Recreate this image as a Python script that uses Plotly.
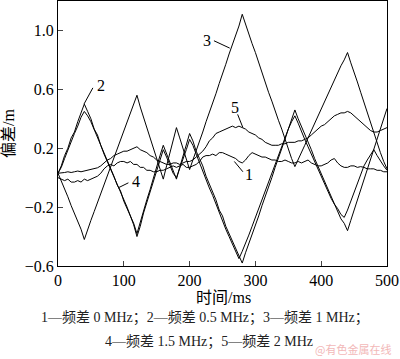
import plotly.graph_objects as go

t = list(range(0, 505, 5))

curve1 = [0.00, -0.01, -0.02, -0.01, -0.03, -0.03, -0.02, -0.03, -0.01, -0.02,
          -0.01, 0.00, 0.01, 0.03, 0.06, 0.08, 0.09, 0.08, 0.10, 0.11,
          0.11, 0.10, 0.11, 0.09, 0.09, 0.07, 0.07, 0.05, 0.05, 0.04,
          0.04, 0.05, 0.05, 0.06, 0.07, 0.08, 0.07, 0.08, 0.09, 0.07,
          0.07, 0.08, 0.09, 0.11, 0.14, 0.15, 0.15, 0.16, 0.15, 0.17,
          0.17, 0.16, 0.15, 0.14, 0.13, 0.11, 0.10, 0.12, 0.15, 0.17,
          0.16, 0.15, 0.14, 0.14, 0.13, 0.12, 0.12, 0.11, 0.11, 0.12,
          0.11, 0.10, 0.10, 0.11, 0.10, 0.11, 0.12, 0.10, 0.09, 0.08,
          0.08, 0.09, 0.10, 0.12, 0.13, 0.10, 0.08, 0.07, 0.07, 0.08,
          0.08, 0.07, 0.075, 0.07, 0.06, 0.06, 0.06, 0.05, 0.05, 0.04,
          0.04]

curve2 = [0.03, 0.08, 0.15, 0.20, 0.27, 0.31, 0.38, 0.44, 0.50, 0.45,
          0.40, 0.33, 0.29, 0.22, 0.17, 0.12, 0.06, 0.01, -0.05, -0.09,
          -0.16, -0.21, -0.26, -0.31, -0.38, -0.30, -0.22, -0.15, -0.08, 0.00,
          0.07, 0.15, 0.22, 0.16, 0.10, 0.04, -0.01, 0.07, 0.15, 0.22,
          0.30, 0.25, 0.18, 0.13, 0.08, 0.01, -0.04, -0.10, -0.15, -0.22,
          -0.26, -0.33, -0.38, -0.44, -0.48, -0.54, -0.58, -0.51, -0.45, -0.39,
          -0.32, -0.26, -0.19, -0.13, -0.06, 0.00, 0.07, 0.13, 0.20, 0.26,
          0.33, 0.39, 0.46, 0.40, 0.35, 0.29, 0.24, 0.19, 0.13, 0.08,
          0.03, -0.03, -0.08, -0.13, -0.18, -0.23, -0.28, -0.31, -0.36, -0.29,
          -0.22, -0.15, -0.08, -0.01, 0.06, 0.13, 0.20, 0.27, 0.33, 0.40,
          0.47]

curve3 = [0.03, -0.02, -0.08, -0.13, -0.19, -0.24, -0.30, -0.35, -0.42, -0.35,
          -0.29, -0.23, -0.17, -0.11, -0.05, 0.01, 0.07, 0.13, 0.19, 0.25,
          0.31, 0.37, 0.43, 0.49, 0.56, 0.48, 0.41, 0.33, 0.26, 0.19,
          0.12, 0.05, -0.01, 0.08, 0.17, 0.25, 0.34, 0.27, 0.20, 0.12,
          0.055, 0.12, 0.18, 0.25, 0.31, 0.38, 0.44, 0.51, 0.57, 0.64,
          0.70, 0.77, 0.84, 0.90, 0.97, 1.03, 1.11, 1.04, 0.98, 0.91,
          0.85, 0.78, 0.72, 0.65, 0.58, 0.52, 0.45, 0.39, 0.33, 0.26,
          0.20, 0.13, 0.075, 0.12, 0.17, 0.22, 0.27, 0.32, 0.37, 0.42,
          0.47, 0.52, 0.57, 0.62, 0.67, 0.72, 0.76, 0.80, 0.85, 0.78,
          0.72, 0.65, 0.58, 0.51, 0.44, 0.37, 0.30, 0.23, 0.17, 0.11,
          0.06]

curve4 = [0.03, 0.07, 0.13, 0.19, 0.24, 0.30, 0.35, 0.41, 0.45, 0.42,
          0.38, 0.33, 0.27, 0.22, 0.16, 0.11, 0.06, 0.00, -0.04, -0.10,
          -0.15, -0.20, -0.26, -0.32, -0.40, -0.33, -0.24, -0.17, -0.10, -0.03,
          0.05, 0.12, 0.19, 0.14, 0.08, 0.03, 0.00, 0.06, 0.13, 0.19,
          0.26, 0.22, 0.16, 0.10, 0.05, -0.01, -0.07, -0.12, -0.18, -0.24,
          -0.29, -0.35, -0.40, -0.45, -0.50, -0.55, -0.50, -0.45, -0.39, -0.33,
          -0.27, -0.21, -0.14, -0.09, -0.03, 0.04, 0.10, 0.16, 0.22, 0.28,
          0.33, 0.38, 0.42, 0.37, 0.31, 0.26, 0.21, 0.16, 0.10, 0.05,
          0.01, -0.04, -0.09, -0.14, -0.18, -0.21, -0.25, -0.27, -0.22, -0.16,
          -0.10, -0.04, 0.02, 0.08, 0.12, 0.16, 0.19, 0.15, 0.11, 0.08,
          0.05]

curve5 = [0.03, 0.03, 0.035, 0.04, 0.035, 0.04, 0.045, 0.04, 0.045, 0.05,
          0.055, 0.06, 0.067, 0.08, 0.10, 0.12, 0.13, 0.15, 0.16, 0.17,
          0.18, 0.18, 0.19, 0.20, 0.21, 0.19, 0.18, 0.17, 0.15, 0.14,
          0.12, 0.11, 0.10, 0.09, 0.09, 0.10, 0.10, 0.09, 0.10, 0.11,
          0.11, 0.12, 0.14, 0.16, 0.18, 0.21, 0.25, 0.27, 0.30, 0.31,
          0.32, 0.33, 0.34, 0.35, 0.34, 0.35, 0.34, 0.33, 0.31, 0.30,
          0.29, 0.27, 0.26, 0.24, 0.23, 0.22, 0.22, 0.22, 0.23, 0.23,
          0.24, 0.24, 0.24, 0.25, 0.25, 0.26, 0.27, 0.29, 0.31, 0.33,
          0.35, 0.36, 0.38, 0.40, 0.42, 0.43, 0.44, 0.44, 0.45, 0.44,
          0.42, 0.40, 0.38, 0.36, 0.34, 0.32, 0.31, 0.31, 0.32, 0.33,
          0.34]

x_ticks = [0, 100, 200, 300, 400, 500]
y_ticks = [-0.6, -0.2, 0.2, 0.6, 1.0]
y_ticktext = ["\u22120.6", "\u22120.2", "0.2", "0.6", "1.0"]

# curve labels: (text, text_t, text_v, leader start (t,v), leader end (t,v))
labels = [
    ("2", 65, 0.625, (53, 0.61), (39.5, 0.50)),
    ("3", 226, 0.935, (237, 0.93), (261, 0.88)),
    ("5", 269, 0.48, (273, 0.43), (281, 0.34)),
    ("1", 290, 0.02, (281, 0.04), (268, 0.11)),
    ("4", 119, -0.025, (107, -0.035), (92, -0.068)),
]

serif = "Liberation Serif, Times New Roman, Noto Sans CJK SC, serif"

W, H = 400, 359
ML, MR, MT, MB = 58, 13, 1, 93
plot_w = W - ML - MR
plot_h = H - MT - MB

def px(pix):
    return (pix - ML) / plot_w

def py(pix):
    return (H - MB - pix) / plot_h

fig = go.Figure()
for ys in [curve1, curve2, curve3, curve4, curve5]:
    fig.add_trace(go.Scatter(x=t, y=ys, mode="lines",
                             line=dict(color="black", width=1),
                             showlegend=False, hoverinfo="skip"))

for txt, tx, ty, p0, p1 in labels:
    fig.add_annotation(x=tx, y=ty, xref="x", yref="y", text=txt, showarrow=False,
                       xanchor="center", yanchor="middle",
                       font=dict(family=serif, size=16, color="black"))
    fig.add_shape(type="line", xref="x", yref="y", x0=p0[0], y0=p0[1],
                  x1=p1[0], y1=p1[1], line=dict(color="black", width=1))

def paper_text(text, xp, yp, size, color="black", family=serif):
    fig.add_annotation(x=px(xp), y=py(yp), xref="paper", yref="paper", text=text,
                       showarrow=False, xanchor="center", yanchor="middle",
                       font=dict(family=family, size=size, color=color))

paper_text("时间/ms", 223, 297, 16)
paper_text("1—频差 0 MHz；2—频差 0.5 MHz；3—频差 1 MHz；", 205, 318, 14, "#222")
paper_text("4—频差 1.5 MHz；5—频差 2 MHz", 209, 342, 14, "#222")
paper_text("@有色金属在线", 353, 349, 11, "#f2b8b8", "Noto Sans CJK SC")

fig.update_layout(
    width=W, height=H,
    margin=dict(l=ML, r=MR, t=MT, b=MB),
    plot_bgcolor="white", paper_bgcolor="white",
    xaxis=dict(range=[0, 500], tickvals=x_ticks, ticks="inside", ticklen=5,
               showline=True, mirror=True, linecolor="black", linewidth=1,
               showgrid=False, zeroline=False,
               tickfont=dict(family=serif, size=16, color="black")),
    yaxis=dict(range=[-0.6, 1.2], tickvals=y_ticks, ticktext=y_ticktext,
               ticks="inside", ticklen=5,
               showline=True, mirror=True, linecolor="black", linewidth=1,
               showgrid=False, zeroline=False,
               title=dict(text="偏差/m", font=dict(family=serif, size=16, color="black"),
                          standoff=6),
               tickfont=dict(family=serif, size=16, color="black")),
)

fig.write_html("out.html", config={"displayModeBar": False},
               post_script="document.body.style.margin='0';")
